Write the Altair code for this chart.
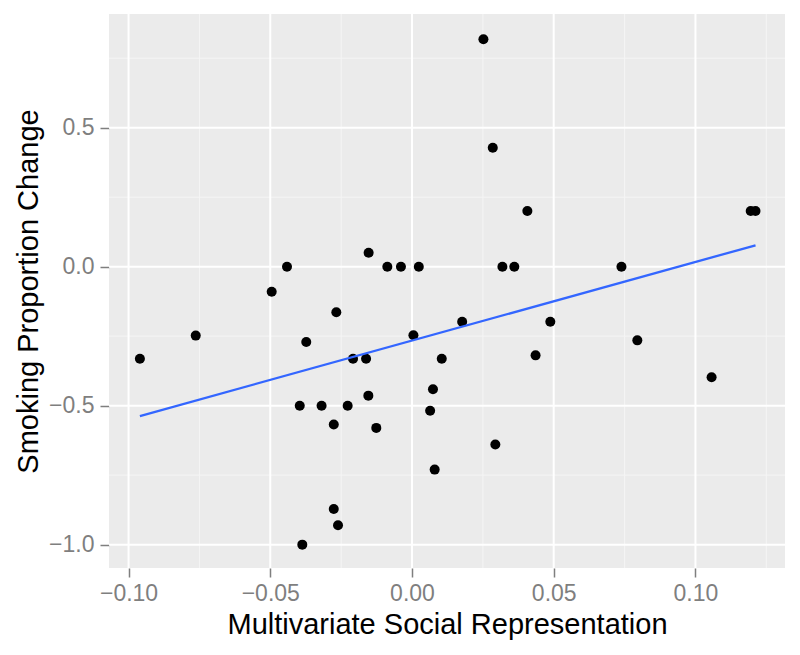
import altair as alt
import pandas as pd

# Data
x_vals = [-0.0960, -0.0763, -0.0495, -0.0441, -0.0396, -0.0387, -0.0373, -0.0319,
          -0.0276, -0.0276, -0.0267, -0.0261, -0.0227, -0.0208, -0.0162, -0.0154,
          -0.0153, -0.0126, -0.0087, -0.0039, 0.0005, 0.0024, 0.0064, 0.0074,
          0.0080, 0.0105, 0.0177, 0.0252, 0.0285, 0.0294, 0.0319, 0.0361,
          0.0407, 0.0436, 0.0488, 0.0739, 0.0795, 0.1057, 0.1195, 0.1212]
y_vals = [-0.331, -0.248, -0.090, 0.000, -0.500, -1.000, -0.271, -0.500,
          -0.568, -0.872, -0.164, -0.930, -0.500, -0.331, -0.331, -0.464,
          0.050, -0.580, 0.000, 0.000, -0.247, 0.000, -0.518, -0.441,
          -0.730, -0.331, -0.198, 0.818, 0.428, -0.640, 0.000, 0.000,
          0.200, -0.319, -0.198, 0.000, -0.265, -0.398, 0.200, 0.200]

x_major = [-0.10, -0.05, 0.00, 0.05, 0.10]
x_minor = [-0.075, -0.025, 0.025, 0.075, 0.125]
y_major = [-1.0, -0.5, 0.0, 0.5]
y_minor = [-0.75, -0.25, 0.25, 0.75]

X_DOMAIN = [-0.1069, 0.1316]
Y_DOMAIN = [-1.084, 0.909]

x_title = "Multivariate Social Representation"
y_title = "Smoking Proportion Change"

FONT = "Liberation Sans"

df = pd.DataFrame({"x": x_vals, "y": y_vals})
xscale = alt.Scale(domain=X_DOMAIN, nice=False, zero=False)
yscale = alt.Scale(domain=Y_DOMAIN, nice=False, zero=False)

xaxis = alt.Axis(values=x_major, format=".2f", grid=False, domain=False,
                 tickSize=9, tickColor="#7f7f7f", tickWidth=1.5,
                 labelColor="#7f7f7f", labelFontSize=23, labelFont=FONT,
                 labelPadding=5, title=x_title, titleFontSize=29,
                 titleFont=FONT, titleFontWeight="normal", titleColor="black",
                 titleBaseline="alphabetic", titleY=65)
yaxis = alt.Axis(values=y_major, format=".1f", grid=False, domain=False,
                 tickSize=9, tickColor="#7f7f7f", tickWidth=1.5,
                 labelColor="#7f7f7f", labelFontSize=23, labelFont=FONT,
                 labelPadding=6, title=y_title, titleFontSize=29,
                 titleFont=FONT, titleFontWeight="normal", titleColor="black",
                 titleBaseline="alphabetic", titleX=-72, titleY=277,
                 titleAngle=270)


def X(field):
    return alt.X(field, type="quantitative", scale=xscale, axis=xaxis)


def Y(field):
    return alt.Y(field, type="quantitative", scale=yscale, axis=yaxis)


minor_v = alt.Chart(pd.DataFrame({"x": x_minor})).mark_rule(
    color="#F5F5F5", strokeWidth=1).encode(x=X("x"))
minor_h = alt.Chart(pd.DataFrame({"y": y_minor})).mark_rule(
    color="#F5F5F5", strokeWidth=1).encode(y=Y("y"))
major_v = alt.Chart(pd.DataFrame({"x": x_major})).mark_rule(
    color="white", strokeWidth=2).encode(x=X("x"))
major_h = alt.Chart(pd.DataFrame({"y": y_major})).mark_rule(
    color="white", strokeWidth=2).encode(y=Y("y"))

points = alt.Chart(df).mark_circle(size=100, color="black", opacity=1).encode(
    x=X("x"), y=Y("y"))

line = alt.Chart(df).transform_regression("x", "y").mark_line(
    color="#3366FF", strokeWidth=2.3).encode(x=X("x"), y=Y("y"))

chart = alt.layer(minor_v, minor_h, major_v, major_h, points, line).properties(
    width=676, height=554,
    padding={"left": 101, "top": 6, "right": 7, "bottom": 79},
    autosize=alt.AutoSizeParams(type="none"),
).configure_view(fill="#EBEBEB", strokeWidth=0)

chart.save("out.html", embed_options={"renderer": "svg", "actions": False})
